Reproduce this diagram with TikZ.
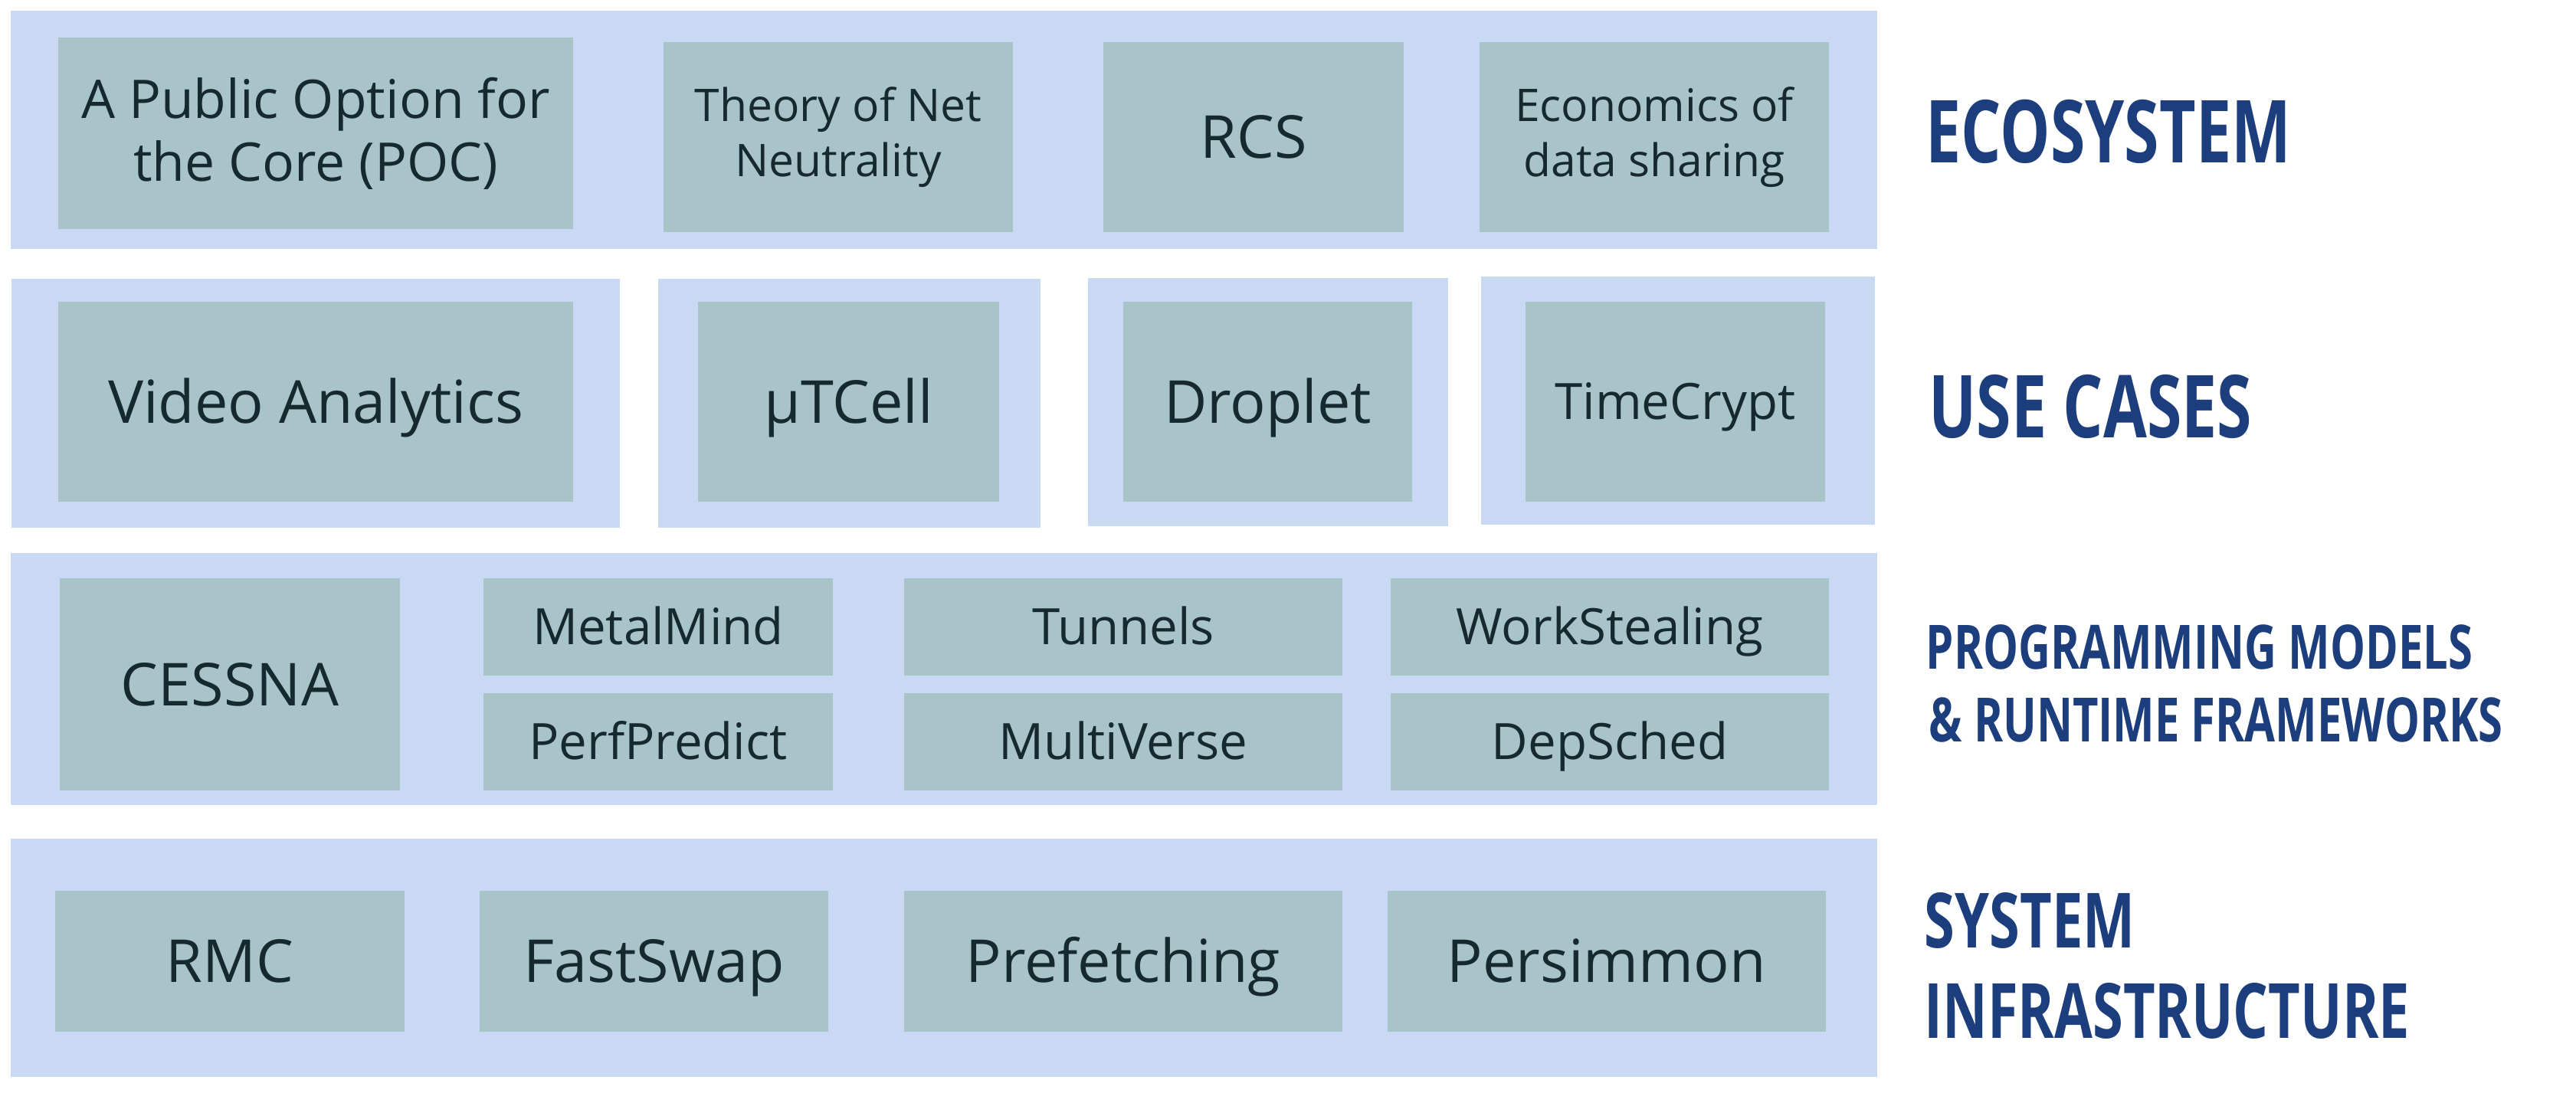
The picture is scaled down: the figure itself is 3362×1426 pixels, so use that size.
\documentclass[tikz,border=0pt]{standalone}
\usepackage{fontspec}
\setmainfont{Open Sans}
\newfontfamily\headfont[FakeStretch=0.725]{Open Sans}
\definecolor{bandc}{HTML}{C9D9F4}
\definecolor{boxc}{HTML}{A8C4C8}
\definecolor{txtc}{HTML}{16292F}
\definecolor{headc}{HTML}{1D3E7D}
\tikzset{
  band/.style={fill=bandc, draw=none, inner sep=0pt},
  box/.style={fill=boxc, draw=none, text=txtc, align=center, inner sep=0pt},
  big/.style={font=\fontsize{22}{26}\selectfont, text height=15.7pt, text depth=0pt},
  mid/.style={font=\fontsize{18.6}{22}\selectfont, text height=13.3pt, text depth=0pt},
  poct/.style={font=\fontsize{19.8}{23.3}\selectfont},
  small/.style={font=\fontsize{16.7}{20.5}\selectfont},
  hdr/.style={text=headc, inner sep=0pt, anchor=base west},
  hbig/.style={font=\headfont\bfseries\fontsize{32.3}{36}\selectfont},
  hmid/.style={font=\headfont\bfseries\fontsize{22.7}{27}\selectfont},
  hsys/.style={font=\headfont\bfseries\fontsize{28.3}{33}\selectfont}
}
\begin{document}
\begin{tikzpicture}[x=0.01cm,y=-0.01cm]
\useasboundingbox (0,0) rectangle (3362,1426);
% ECOSYSTEM row
\node[band, minimum width=24.34cm, minimum height=3.11cm] (b1) at (1232,169.5) {};
\node[box, poct, minimum width=6.72cm, minimum height=2.50cm] (poc) at (412,174) {A Public Option for\\the Core (POC)};
\node[box, small, minimum width=4.56cm, minimum height=2.48cm] (net) at (1094,179) {Theory of Net\\Neutrality};
\node[box, big, minimum width=3.92cm, minimum height=2.48cm] (rcs) at (1636,179) {RCS};
\node[box, small, minimum width=4.56cm, minimum height=2.48cm] (econ) at (2159,179) {Economics of\\data sharing};
% USE CASES row
\node[band, minimum width=7.94cm, minimum height=3.25cm] (b2a) at (412,526.5) {};
\node[band, minimum width=4.99cm, minimum height=3.25cm] (b2b) at (1108.5,526.5) {};
\node[band, minimum width=4.70cm, minimum height=3.24cm] (b2c) at (1655,525) {};
\node[band, minimum width=5.14cm, minimum height=3.24cm] (b2d) at (2190,523) {};
\node[box, big, minimum width=6.72cm, minimum height=2.61cm] (video) at (412,524.5) {Video Analytics};
\node[box, big, minimum width=3.93cm, minimum height=2.61cm] (utcell) at (1107.5,524.5) {µTCell};
\node[box, big, minimum width=3.77cm, minimum height=2.61cm] (droplet) at (1654.5,524.5) {Droplet};
\node[box, mid, minimum width=3.91cm, minimum height=2.61cm] (timecrypt) at (2186.5,524.5) {TimeCrypt};
% PROGRAMMING row
\node[band, minimum width=24.34cm, minimum height=3.29cm] (b3) at (1232,886.5) {};
\node[box, big, minimum width=4.44cm, minimum height=2.77cm] (cessna) at (300,893.5) {CESSNA};
\node[box, mid, minimum width=4.56cm, minimum height=1.27cm] (metal) at (859,818.5) {MetalMind};
\node[box, mid, minimum width=4.56cm, minimum height=1.27cm] (perf) at (859,968.5) {PerfPredict};
\node[box, mid, minimum width=5.72cm, minimum height=1.27cm] (tunnels) at (1466,818.5) {Tunnels};
\node[box, mid, minimum width=5.72cm, minimum height=1.27cm] (multi) at (1466,968.5) {MultiVerse};
\node[box, mid, minimum width=5.72cm, minimum height=1.27cm] (work) at (2101,818.5) {WorkStealing};
\node[box, mid, minimum width=5.72cm, minimum height=1.27cm] (dep) at (2101,968.5) {DepSched};
% SYSTEM row
\node[band, minimum width=24.34cm, minimum height=3.11cm] (b4) at (1232,1250.5) {};
\node[box, big, minimum width=4.56cm, minimum height=1.84cm] (rmc) at (300,1255) {RMC};
\node[box, big, minimum width=4.55cm, minimum height=1.84cm] (fastswap) at (853.5,1255) {FastSwap};
\node[box, big, minimum width=5.72cm, minimum height=1.84cm] (prefetch) at (1466,1255) {Prefetching};
\node[box, big, minimum width=5.72cm, minimum height=1.84cm] (persim) at (2097,1255) {Persimmon};
% headers
\node[hdr, hbig] (h1) at (2513,212) {ECOSYSTEM};
\node[hdr, hbig] (h2) at (2517,571) {USE CASES};
\node[hdr, hmid] (h3a) at (2513,873) {PROGRAMMING MODELS};
\node[hdr, hmid] (h3b) at (2517,968) {\& RUNTIME FRAMEWORKS};
\node[hdr, hsys] (h4a) at (2511,1237) {SYSTEM};
\node[hdr, hsys] (h4b) at (2511,1355) {INFRASTRUCTURE};
\end{tikzpicture}
\end{document}
